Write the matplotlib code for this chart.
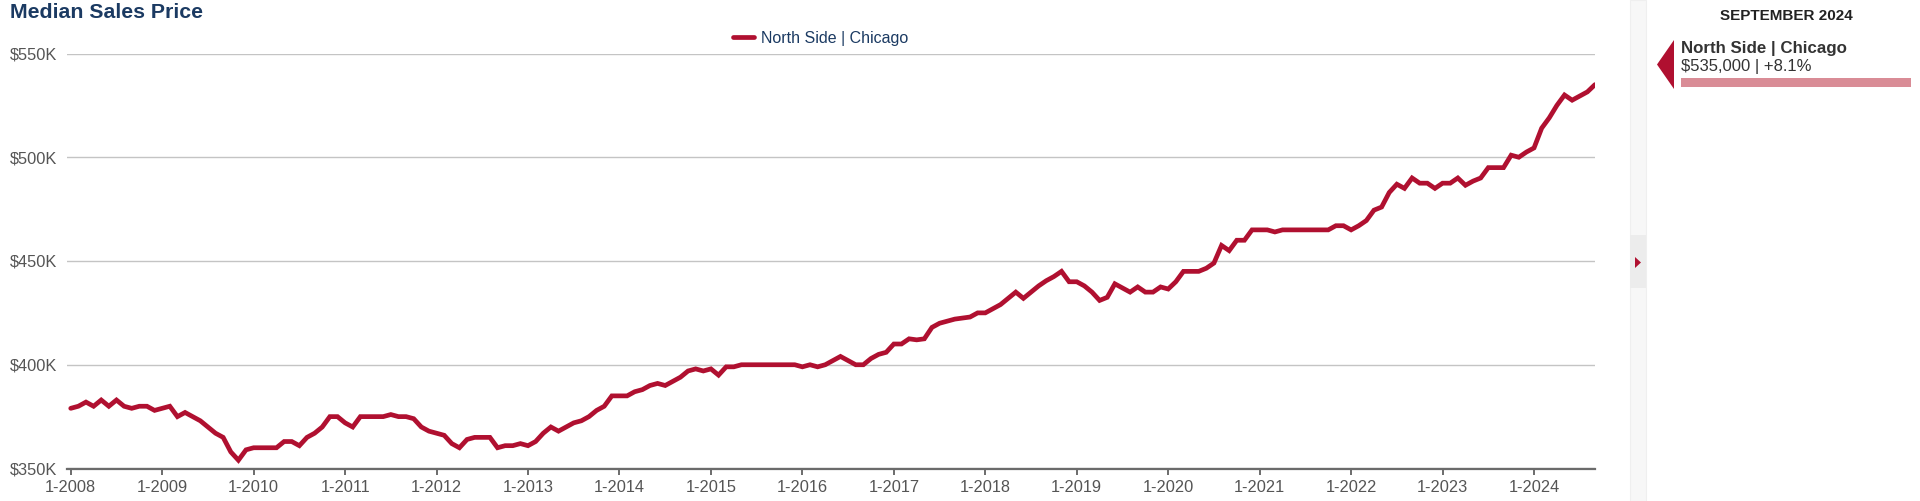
import matplotlib
matplotlib.use("Agg")
import matplotlib.pyplot as plt
from matplotlib.patches import Rectangle, Polygon
import numpy as np

plt.rcParams['font.family'] = ['Liberation Sans', 'DejaVu Sans']

# ---- data (median sales price, $K, monthly from Jan 2008 to Sep 2024) ----
series_name = "North Side | Chicago"
start_year = 2008
y2008 = [379, 380, 382, 380, 383, 380, 383, 380, 379, 380, 380, 378]
y2009 = [379, 380, 375, 377, 375, 373, 370, 367, 365, 358, 354, 359]
y2010 = [360, 360, 360, 360, 363, 363, 361, 365, 367, 370, 375, 375]
y2011 = [372, 370, 375, 375, 375, 375, 376, 375, 375, 374, 370, 368]
y2012 = [367, 366, 362, 360, 364, 365, 365, 365, 360, 361, 361, 362]
y2013 = [361, 363, 367, 370, 368, 370, 372, 373, 375, 378, 380, 385]
y2014 = [385, 385, 387, 388, 390, 391, 390, 392, 394, 397, 398, 397]
y2015 = [398, 395, 399, 399, 400, 400, 400, 400, 400, 400, 400, 400]
y2016 = [399, 400, 399, 400, 402, 404, 402, 400, 400, 403, 405, 406]
y2017 = [410, 410, 412.5, 412, 412.5, 418, 420, 421, 422, 422.5, 423, 425]
y2018 = [425, 427, 429, 432, 435, 432, 435, 438, 440.5, 442.5, 445, 440]
y2019 = [440, 438, 435, 431, 432.5, 439, 437, 435, 437.5, 435, 435, 437.5]
y2020 = [436.5, 440, 445, 445, 445, 446.5, 449, 457.5, 455, 460, 460, 465]
y2021 = [465, 465, 464, 465, 465, 465, 465, 465, 465, 465, 467, 467]
y2022 = [465, 467, 469.5, 474.5, 476, 483, 487, 485, 490, 487.5, 487.5, 485]
y2023 = [487.5, 487.5, 490, 486.5, 488.5, 490, 495, 495, 495, 501, 500, 502.5]
y2024 = [504.5, 514, 519, 525, 530, 527.5, 529.5, 531.5, 535]

years = list(range(2008, 2025))
tick_labels = [f"1-{y}" for y in years]
y_ticks = [350, 400, 450, 500, 550]
y_tick_labels = [f"${v}K" for v in y_ticks]
panel_title = "SEPTEMBER 2024"

values = (y2008 + y2009 + y2010 + y2011 + y2012 + y2013 + y2014 + y2015 + y2016 +
          y2017 + y2018 + y2019 + y2020 + y2021 + y2022 + y2023 + y2024)
months = np.arange(len(values))

# ---- styling ----
W, H = 1920, 501
LINE = '#b01030'
NAVY = '#1b3a62'
GRAY_TXT = '#555555'

fig = plt.figure(figsize=(W / 100, H / 100), dpi=100)
fig.patch.set_facecolor('white')

ax_l, ax_r, ax_t, ax_b = 67, 1595, 53.5, 468.5
ax = fig.add_axes([ax_l / W, (H - ax_b) / H, (ax_r - ax_l) / W, (ax_b - ax_t) / H])
line, = ax.plot(months, values, color=LINE, lw=3.4, solid_joinstyle='miter',
                solid_capstyle='round', label=series_name, zorder=3)

ax.set_xlim(-0.49, len(values) - 1)
ax.set_ylim(350, 550)
ax.set_yticks(y_ticks)
ax.set_yticklabels(y_tick_labels)
ax.set_xticks([12 * i for i in range(len(years))])
ax.set_xticklabels(tick_labels)

for s in ['top', 'right', 'left']:
    ax.spines[s].set_visible(False)
ax.spines['bottom'].set_color('#6b6b6b')
ax.spines['bottom'].set_linewidth(1.6)
ax.spines['bottom'].set_zorder(4)

ax.tick_params(axis='x', direction='out', length=4.5, width=1.4, color='#6b6b6b',
               labelsize=11.8, labelcolor=GRAY_TXT, pad=4)
ax.tick_params(axis='y', length=0, labelsize=11.8, labelcolor=GRAY_TXT, pad=7)
ax.grid(axis='y', color='#c4c4c4', lw=1.0, zorder=0)
ax.set_axisbelow(True)

# legend
leg = fig.legend(handles=[line], loc='center', bbox_to_anchor=(821 / W, 1 - 38 / H),
                 frameon=False, fontsize=11.5, handlelength=1.3, handletextpad=0.45,
                 borderaxespad=0, borderpad=0)
for t in leg.get_texts():
    t.set_color(NAVY)
leg.get_lines()[0].set_linewidth(3.4)

# title
fig.text(10 / W, 1 - 13 / H, "Median Sales Price", fontsize=15.3, fontweight='bold',
         color=NAVY, ha='left', va='center')

# ---- right side panel (overlay in pixel coordinates) ----
ov = fig.add_axes([0, 0, 1, 1], zorder=-1)
ov.set_xlim(0, W)
ov.set_ylim(H, 0)
ov.axis('off')
ov.add_patch(Rectangle((1630, 0), 16, H, facecolor='#f7f7f7', edgecolor='#efefef', lw=0.8))
ov.add_patch(Rectangle((1630, 235), 16, 53, facecolor='#ececec', edgecolor='none'))
ov.add_patch(Polygon([(1635, 257), (1635, 268), (1641, 262.5)], closed=True,
                     facecolor=LINE, edgecolor='none'))

last_val = values[-1]
prev_year_val = values[-13]
pct = (last_val / prev_year_val - 1) * 100

ov.text(1786, 15.5, panel_title, fontsize=11, fontweight='bold', color='#222222',
        ha='center', va='center')
ov.add_patch(Polygon([(1657, 64.5), (1674, 40), (1674, 89)], closed=True,
                     facecolor=LINE, edgecolor='none'))
ov.text(1681, 48, series_name, fontsize=12.2, fontweight='bold', color='#333333',
        ha='left', va='center')
ov.text(1681, 66.5, f"${last_val * 1000:,.0f} | {pct:+.1f}%", fontsize=12, color='#333333',
        ha='left', va='center')
ov.add_patch(Rectangle((1681, 77.5), 230, 9, facecolor='#d98c96', edgecolor='none'))

fig.savefig('out.png', dpi=100, facecolor='white')
